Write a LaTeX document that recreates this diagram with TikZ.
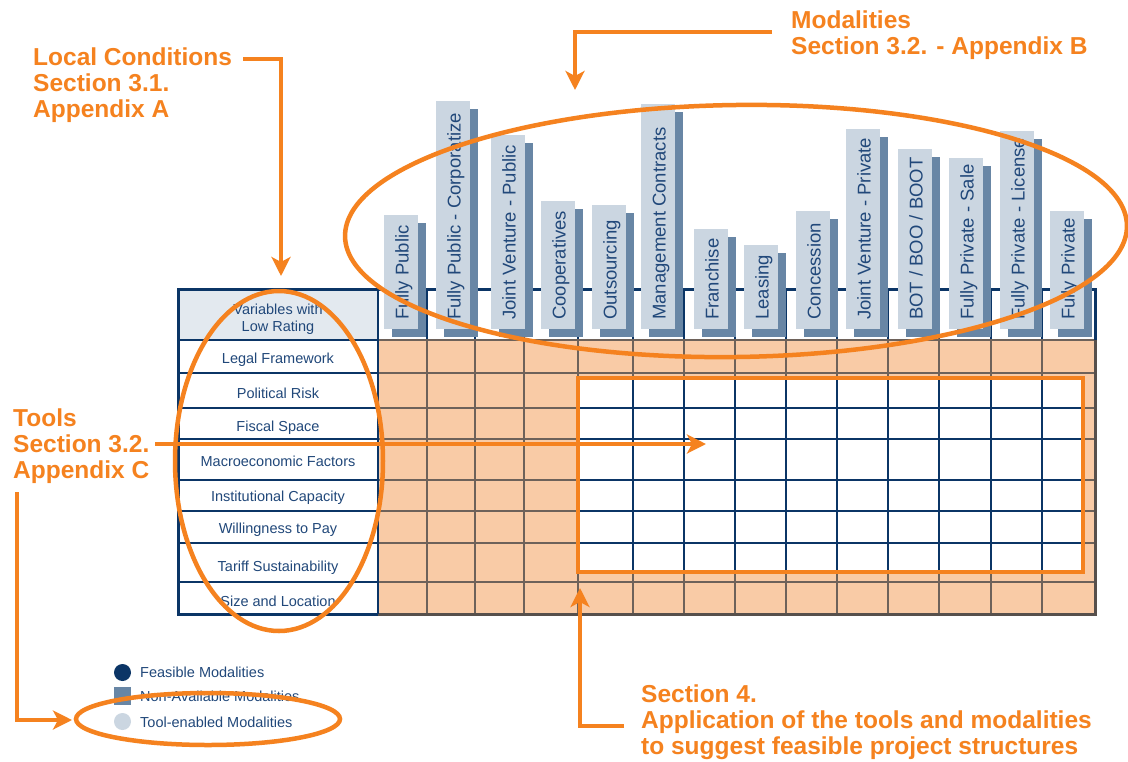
\documentclass[tikz,border=0pt]{standalone}
\usepackage{fontspec}
\setmainfont{Liberation Sans}
\usetikzlibrary{arrows.meta}
\definecolor{orng}{HTML}{F5821F}
\definecolor{navy}{HTML}{0B3566}
\definecolor{txtnavy}{HTML}{21487A}
\definecolor{peach}{HTML}{F9CBA6}
\definecolor{gridc}{HTML}{6E625A}
\definecolor{botc}{HTML}{57504C}
\definecolor{hdrc}{HTML}{E3E9EF}
\definecolor{lightbar}{HTML}{CBD6E1}
\definecolor{darkbar}{HTML}{6886A5}
\tikzset{
  otext/.style={font=\bfseries\fontsize{24.5}{26}\selectfont, text=orng, align=left, inner sep=0pt, anchor=north west},
  oarrow/.style={draw=orng, line width=4.5pt, -{Stealth[length=19pt,width=19pt,inset=5pt]}},
  oring/.style={draw=orng, line width=4.5pt},
  rowlabel/.style={font=\fontsize{14.5}{17}\selectfont, text=txtnavy, inner sep=0pt, anchor=base},
  modlabel/.style={font=\fontsize{18.5}{20}\selectfont, text=txtnavy, inner sep=0pt, rotate=90, anchor=base west},
  leglabel/.style={font=\fontsize{14.5}{17}\selectfont, text=txtnavy, inner sep=0pt, anchor=base west},
  gridpeach/.style={draw=gridc, line width=1.5pt},
  gridnavy/.style={draw=navy, line width=1.3pt},
}
\begin{document}
\begin{tikzpicture}[x=1pt,y=-1pt]
\useasboundingbox (0,0) rectangle (1128,761);
\fill[white] (0,0) rectangle (1128,761);

% ---- table ----
\fill[hdrc] (178,289) rectangle (378,340);
\fill[peach] (378,340) rectangle (1095,614);
\foreach \x in {427,475,524,578,633,684,735,786,837,888,939,991,1042}
  \draw[gridpeach] (\x,340) -- (\x,614);
\foreach \y in {373,408,439,480,511,543,582}
  \draw[gridpeach] (378,\y) -- (1095,\y);
\foreach \x in {427,475,524,578,633,684,735,786,837,888,939,991,1042}
  \draw[navy, line width=1.2pt] (\x,289) -- (\x,340);
\draw[gridc, line width=1.2pt] (378,340) -- (1095,340);
% white block
\fill[white] (578,378) rectangle (1083,572);
\foreach \x in {633,684,735,786,837,888,939,991,1042}
  \draw[gridnavy] (\x,378) -- (\x,572);
\foreach \y in {408,439,480,511,543}
  \draw[gridnavy] (578,\y) -- (1083,\y);
% left column
\foreach \y in {340,373,408,439,480,511,543,582}
  \draw[gridnavy] (178,\y) -- (378,\y);
\draw[botc, line width=3pt] (378,614) -- (1095,614) -- (1095,340);
\draw[navy, line width=3pt] (1095,340) -- (1095,289) -- (178,289) -- (178,614) -- (378,614);
\draw[navy, line width=1.5pt] (378,289) -- (378,614);

\node[rowlabel, align=center] (hdr) at (278,314) {Variables with};
\node[rowlabel] (hdr2) at (278,331) {Low Rating};
\foreach \b/\lab [count=\i] in {363/Legal Framework, 398/Political Risk, 431/Fiscal Space,
  466/Macroeconomic Factors, 501/Institutional Capacity, 533/Willingness to Pay,
  571/Tariff Sustainability, 606/Size and Location}
  \node[rowlabel] (row\i) at (278,\b) {\lab};

% ---- modality bars ----
\foreach \l/\t/\lab [count=\i] in {384/215/{Fully Public}, 436/101/{Fully Public - Corporatize},
  491/135/{Joint Venture - Public}, 541/201/{Cooperatives}, 592/205/{Outsourcing},
  641/104/{Management Contracts}, 694/229/{Franchise}, 744/245/{Leasing},
  796/211/{Concession}, 846/129/{Joint Venture - Private}, 898/149/{BOT / BOO / BOOT},
  949/158/{Fully Private - Sale}, 1000/131/{Fully Private - License}, 1050/211/{Fully Private}}
{
  \fill[darkbar] (\l+8,\t+8) rectangle (\l+42,337);
  \fill[lightbar] (\l,\t) rectangle (\l+34,329);
  \node[modlabel] (mod\i) at (\l+24.5,320) {\lab};
}

% ---- legend ----
\node[circle, fill=navy, minimum size=17pt, inner sep=0pt] (lg1) at (122.5,672.5) {};
\node[leglabel] (lt1) at (140,677) {Feasible Modalities};
\node[fill=darkbar, minimum width=17pt, minimum height=18pt, inner sep=0pt] (lg2) at (122.5,695.5) {};
\node[leglabel] (lt2) at (140,701) {Non-Available Modalities};
\node[circle, fill=lightbar, minimum size=17pt, inner sep=0pt] (lg3) at (122.5,721.5) {};
\node[leglabel] (lt3) at (140,727) {Tool-enabled Modalities};

% ---- orange highlights ----
\draw[oring, rotate around={0.8:(736,231)}] (736,231) ellipse [x radius=391pt, y radius=126pt];
\draw[oring] (279,461) ellipse [x radius=104pt, y radius=170pt];
\draw[oring] (208,719) ellipse [x radius=132pt, y radius=26pt];
\draw[oring] (578,378) rectangle (1083,572);

% ---- labels ----
\node[otext] (lc) at (33,48) {Local Conditions\\Section 3.1.\\Appendix A};
\node[otext] (modt) at (791,11) {Modalities\\Section 3.2. - Appendix B};
\node[otext] (tools) at (13,409) {Tools\\Section 3.2.\\Appendix C};
\node[otext] (sec4) at (641,685) {Section 4.\\Application of the tools and modalities\\to suggest feasible project structures};

% ---- arrows ----
\coordinate (lcA) at (243,59);
\coordinate (lcB) at (281,276);
\draw[oarrow] (lcA) -| (lcB);
\coordinate (mA) at (772,32);
\coordinate (mB) at (575,90);
\draw[oarrow] (mA) -| (mB);
\coordinate (tA) at (155,444);
\coordinate (tB) at (706,444);
\draw[oarrow] (tA) -- (tB);
\coordinate (tC) at (17,492);
\coordinate (tD) at (72,720);
\draw[oarrow] (tC) |- (tD);
\coordinate (sA) at (624,726);
\coordinate (sB) at (580,588);
\draw[oarrow] (sA) -| (sB);
\end{tikzpicture}
\end{document}
